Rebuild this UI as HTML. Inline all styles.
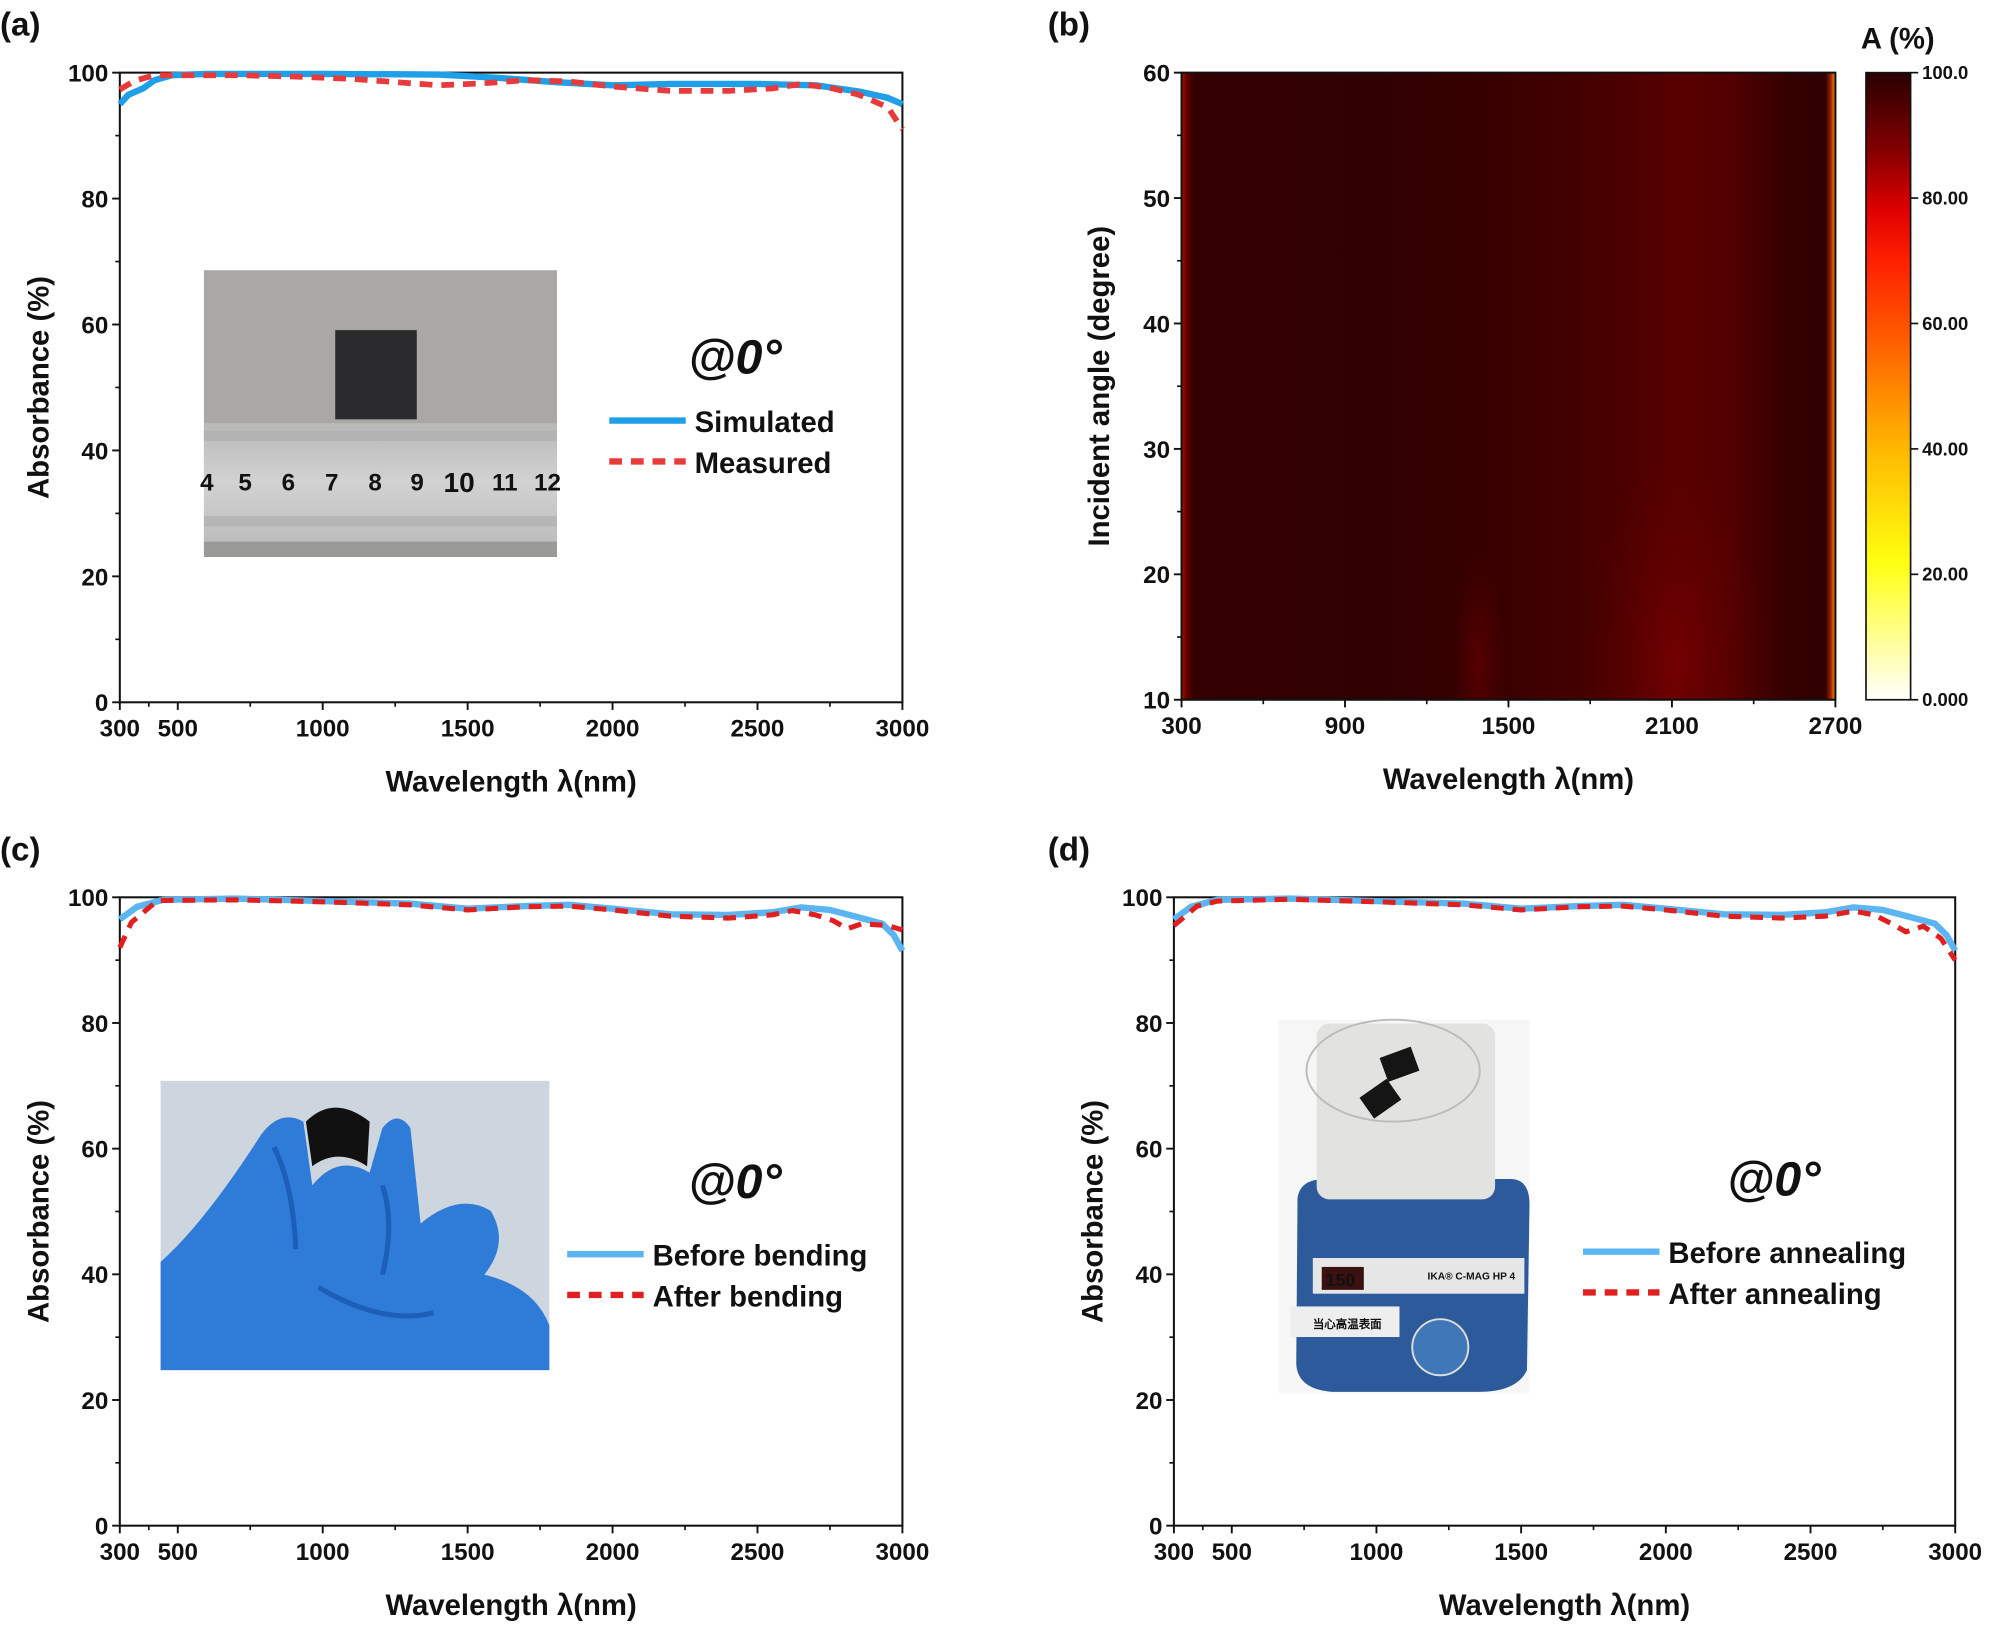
<!DOCTYPE html>
<html><head><meta charset="utf-8"><style>
html,body{margin:0;padding:0;background:#fff}
svg{display:block}
text{font-family:"Liberation Sans",Arial,sans-serif;font-weight:bold;fill:#111}
</style></head><body>
<svg id="s" width="1996" height="1627" viewBox="0 0 1566 1276.5" xmlns="http://www.w3.org/2000/svg">
<defs>
<clipPath id="hc"><rect x="927" y="57" width="513" height="492"/></clipPath>
<linearGradient id="hm" x1="0" x2="1" y1="0" y2="0">
<stop offset="0" stop-color="#b01000"/>
<stop offset="0.008" stop-color="#600000"/>
<stop offset="0.02" stop-color="#330000"/>
<stop offset="0.3" stop-color="#300000"/>
<stop offset="0.45" stop-color="#360000"/>
<stop offset="0.55" stop-color="#3e0000"/>
<stop offset="0.68" stop-color="#4c0000"/>
<stop offset="0.76" stop-color="#580000"/>
<stop offset="0.84" stop-color="#520000"/>
<stop offset="0.92" stop-color="#360000"/>
<stop offset="0.985" stop-color="#2e0000"/>
<stop offset="0.993" stop-color="#a02000"/>
<stop offset="1" stop-color="#ffa000"/>
</linearGradient>
<linearGradient id="cb" x1="0" x2="0" y1="0" y2="1">
<stop offset="0" stop-color="#2a0000"/>
<stop offset="0.12" stop-color="#800000"/>
<stop offset="0.22" stop-color="#e00000"/>
<stop offset="0.3" stop-color="#ff2000"/>
<stop offset="0.42" stop-color="#ff5a00"/>
<stop offset="0.6" stop-color="#ffb800"/>
<stop offset="0.78" stop-color="#ffff10"/>
<stop offset="1" stop-color="#ffffff"/>
</linearGradient>
<radialGradient id="glow" cx="0.5" cy="0.5" r="0.5">
<stop offset="0" stop-color="#760000" stop-opacity="0.9"/>
<stop offset="1" stop-color="#5a0000" stop-opacity="0"/>
</radialGradient>
<linearGradient id="rul" x1="0" x2="0" y1="0" y2="1">
<stop offset="0" stop-color="#b8b8b8"/><stop offset="0.5" stop-color="#d2d2d2"/><stop offset="1" stop-color="#bdbdbd"/>
</linearGradient>
</defs>
<g id="root"></g>

<text x="0" y="28" font-size="26">(a)</text>
<text x="822" y="28" font-size="26">(b)</text>
<text x="0" y="675" font-size="26">(c)</text>
<text x="822" y="675" font-size="26">(d)</text>

<!-- photo a -->
<g>
<rect x="160" y="212" width="277" height="225" fill="#a9a8a6"/>
<rect x="263" y="259" width="64" height="70" fill="#2b2b2d"/>
<rect x="160" y="332" width="277" height="93" fill="url(#rul)"/>
<rect x="160" y="338" width="277" height="8" fill="#a8a8a8" opacity="0.5"/>
<rect x="160" y="405" width="277" height="8" fill="#a8a8a8" opacity="0.5"/>
<rect x="160" y="425" width="277" height="12" fill="#9a9a98"/>
<g font-family="Liberation Serif" font-size="19" fill="#444">
<text x="157" y="385" fill="#444">4</text><text x="187" y="385" fill="#444">5</text><text x="221" y="385" fill="#444">6</text><text x="255" y="385" fill="#444">7</text><text x="289" y="385" fill="#444">8</text><text x="322" y="385" fill="#444">9</text><text x="348" y="386" font-size="22" fill="#6a2030">10</text><text x="386" y="385" fill="#444">11</text><text x="419" y="385" fill="#444">12</text>
</g>
</g>

<!-- photo c -->
<g>
<rect x="126" y="848" width="305" height="227" fill="#cdd5de"/>
<path d="M240 880 Q262 858 290 880 L288 915 Q265 900 245 915 Z" fill="#111"/>
<path d="M126 990 Q160 960 205 890 Q220 870 238 880 L245 930 Q265 905 290 920 L300 885 Q312 870 322 885 L330 960 Q360 935 385 950 Q400 975 380 1000 Q420 1010 431 1040 L431 1075 L126 1075 Z" fill="#2f7bd8"/>
<path d="M215 900 Q230 930 232 980 M300 930 Q310 960 300 1000 M250 1010 Q300 1040 340 1030" stroke="#1d5fb8" stroke-width="4" fill="none"/>
</g>

<!-- photo d -->
<g>
<rect x="1003" y="800" width="197" height="293" fill="#f6f6f6"/>
<path d="M1018 940 Q1020 925 1040 925 L1185 925 Q1200 925 1200 945 L1198 1075 Q1190 1092 1160 1092 L1045 1092 Q1018 1090 1017 1070 Z" fill="#2c5a9a"/>
<rect x="1033" y="803" width="140" height="138" rx="10" fill="#e2e2e0"/>
<ellipse cx="1093" cy="840" rx="68" ry="40" fill="none" stroke="#bbb" stroke-width="1.5"/>
<rect x="1085" y="825" width="26" height="20" fill="#151515" transform="rotate(-20 1098 835)"/>
<rect x="1070" y="852" width="26" height="20" fill="#151515" transform="rotate(-35 1083 862)"/>
<rect x="1030" y="987" width="166" height="28" fill="#e6e6e6"/>
<rect x="1037" y="994" width="33" height="18" fill="#3a1010"/>
<text x="1040" y="1009" font-size="14" fill="#ff3030">150</text>
<text x="1120" y="1004" font-size="8" fill="#224">IKA® C-MAG HP 4</text>
<rect x="1013" y="1025" width="85" height="24" fill="#eee"/>
<text x="1030" y="1042" font-size="9" font-family="Liberation Sans,'Noto Sans CJK SC',sans-serif">当心高温表面</text>
<circle cx="1130" cy="1057" r="22" fill="#3f77b8" stroke="#ddd" stroke-width="1.5"/>
</g>

<text x="540" y="293" font-size="38" font-style="italic">@0°</text>
<line x1="478" y1="330" x2="538" y2="330" stroke="#1e9fe8" stroke-width="5"/>
<text x="545" y="339" font-size="23">Simulated</text>
<line x1="478" y1="362" x2="538" y2="362" stroke="#e83a3a" stroke-width="5" stroke-dasharray="10,7"/>
<text x="545" y="371" font-size="23">Measured</text>

<text x="540" y="940" font-size="38" font-style="italic">@0°</text>
<line x1="445" y1="984" x2="505" y2="984" stroke="#5ab5f0" stroke-width="5"/>
<text x="512" y="993" font-size="23">Before bending</text>
<line x1="445" y1="1016" x2="505" y2="1016" stroke="#e02020" stroke-width="5" stroke-dasharray="10,7"/>
<text x="512" y="1025" font-size="23">After bending</text>

<text x="1355" y="938" font-size="38" font-style="italic">@0°</text>
<line x1="1242" y1="982" x2="1302" y2="982" stroke="#5ab5f0" stroke-width="5"/>
<text x="1309" y="991" font-size="23">Before annealing</text>
<line x1="1242" y1="1014" x2="1302" y2="1014" stroke="#e02020" stroke-width="5" stroke-dasharray="10,7"/>
<text x="1309" y="1023" font-size="23">After annealing</text>

<text x="1460" y="38" font-size="23">A (%)</text>
</svg>
<script>
const NS="http://www.w3.org/2000/svg", root=document.getElementById('root');
function el(t,a,txt,par){const e=document.createElementNS(NS,t);for(const k in a)e.setAttribute(k,a[k]);if(txt!==undefined&&txt!==null)e.textContent=txt;(par||root).appendChild(e);return e;}
const hg=el('g',{'clip-path':'url(#hc)'});
el('rect',{x:927,y:57,width:513,height:492,fill:'url(#hm)'},null,hg);
el('ellipse',{cx:1315,cy:520,rx:70,ry:170,fill:'url(#glow)'},null,hg);
el('ellipse',{cx:1160,cy:520,rx:22,ry:90,fill:'url(#glow)',opacity:0.6},null,hg);
el('rect',{x:1464,y:57,width:35,height:492,fill:'url(#cb)',stroke:'#111','stroke-width':1.3});
[[100,'100.0'],[80,'80.00'],[60,'60.00'],[40,'40.00'],[20,'20.00'],[0,'0.000']].forEach(([v,l])=>{const y=549-v*4.92;el('line',{x1:1499,x2:1505,y1:y,y2:y,stroke:'#111','stroke-width':1.3});el('text',{x:1508,y:y+5,'font-size':14.5},l);});
function axes(o){
 const {L,R,T,B}=o;
 el('rect',{x:L,y:T,width:R-L,height:B-T,fill:'none',stroke:'#111','stroke-width':1.6});
 o.yt.forEach(v=>{const y=B-(v-o.y0)/(o.y1-o.y0)*(B-T);el('line',{x1:L,x2:L-6,y1:y,y2:y,stroke:'#111','stroke-width':1.5});el('text',{x:L-9,y:y+7,'font-size':19,'text-anchor':'end'},v);});
 o.ym.forEach(v=>{const y=B-(v-o.y0)/(o.y1-o.y0)*(B-T);el('line',{x1:L,x2:L-3.5,y1:y,y2:y,stroke:'#111','stroke-width':1.3});});
 o.xt.forEach(v=>{const x=L+(v-o.x0)/(o.x1-o.x0)*(R-L);el('line',{x1:x,x2:x,y1:B,y2:B+6,stroke:'#111','stroke-width':1.5});el('text',{x:x,y:B+27,'font-size':19,'text-anchor':'middle'},v);});
 o.xm.forEach(v=>{const x=L+(v-o.x0)/(o.x1-o.x0)*(R-L);el('line',{x1:x,x2:x,y1:B,y2:B+3.5,stroke:'#111','stroke-width':1.3});});
 el('text',{x:(L+R)/2,y:B+70,'font-size':23,'text-anchor':'middle'},'Wavelength λ(nm)');
 el('text',{x:0,y:0,'font-size':23,'text-anchor':'middle',transform:`translate(${o.yl},${(T+B)/2}) rotate(-90)`},o.ylab);
}
function curve(o,d,col,dash,w){
 const {L,R,T,B}=o;let p='';
 d.forEach(([x,v],i)=>{const X=L+(x-300)/2700*(R-L),Y=B-v/100*(B-T);p+=(i?'L':'M')+X.toFixed(1)+' '+Y.toFixed(1);});
 const a={d:p,fill:'none',stroke:col,'stroke-width':w||4,'stroke-linejoin':'round'};if(dash)a['stroke-dasharray']=dash;el('path',a);
}
const base={x0:300,x1:3000,y0:0,y1:100,yt:[0,20,40,60,80,100],ym:[10,30,50,70,90],xt:[300,500,1000,1500,2000,2500,3000],xm:[400,750,1250,1750,2250,2750],ylab:'Absorbance (%)'};
const A=Object.assign({L:94,R:708,T:57,B:551,yl:38},base);
const C=Object.assign({L:94,R:708,T:704,B:1197,yl:38},base);
const D=Object.assign({L:921,R:1534,T:704,B:1197,yl:865},base);
[A,C,D].forEach(axes);
axes({L:927,R:1440,T:57,B:549,x0:300,x1:2700,y0:10,y1:60,yt:[10,20,30,40,50,60],ym:[15,25,35,45,55],xt:[300,900,1500,2100,2700],xm:[600,1200,1800,2400],yl:870,ylab:'Incident angle (degree)'});
curve(A,[[300,95],[330,96.5],[380,97.5],[420,98.8],[480,99.6],[600,99.8],[1000,99.8],[1400,99.7],[1600,99.2],[1800,98.5],[2000,98],[2200,98.2],[2500,98.2],[2700,98],[2850,97],[2950,96],[3000,95]],'#1e9fe8',null,5);
curve(A,[[300,97.3],[350,98.7],[420,99.6],[700,99.6],[900,99.4],[1100,99],[1250,98.5],[1400,98],[1550,98.3],[1700,98.8],[1850,98.6],[2000,97.8],[2200,97.1],[2400,97.1],[2550,97.5],[2650,98.2],[2750,97.6],[2850,96.5],[2950,94.5],[3000,91]],'#e83a3a','10,7',4.5);
const simCD=[[300,96.5],[360,98.5],[450,99.6],[700,99.8],[1000,99.4],[1300,99],[1500,98.2],[1700,98.6],[1850,98.8],[2000,98.2],[2200,97.3],[2400,97.2],[2550,97.6],[2650,98.4],[2750,98],[2850,96.8],[2930,95.8],[2970,94],[3000,91.5]];
curve(C,simCD,'#5ab5f0',null,5);
curve(C,[[300,92],[340,96],[430,99.5],[700,99.6],[1000,99.3],[1300,98.8],[1500,98],[1700,98.5],[1850,98.6],[2000,98],[2200,97],[2400,96.7],[2550,97.2],[2620,97.9],[2700,97.2],[2760,96.3],[2810,95],[2860,95.8],[2950,95.5],[3000,94.8]],'#e02020','10,7',4);
curve(D,simCD,'#5ab5f0',null,5);
curve(D,[[300,95.5],[380,98.6],[450,99.4],[700,99.7],[1000,99.3],[1300,98.8],[1500,98],[1700,98.5],[1850,98.6],[2000,98],[2200,97],[2400,96.7],[2550,97],[2650,97.8],[2720,97.2],[2780,95.8],[2830,94.5],[2890,95.4],[2950,93.5],[3000,90]],'#e02020','10,7',4);
</script>
</body></html>
